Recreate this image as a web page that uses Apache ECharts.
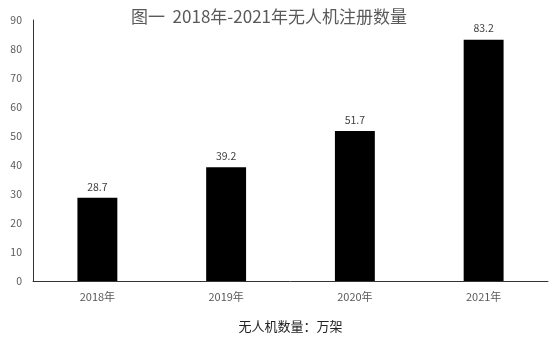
<!DOCTYPE html>
<html>
<head>
<meta charset="utf-8">
<script src="https://cdn.jsdelivr.net/npm/echarts@6/dist/echarts.min.js"></script>
<style>
  html, body { margin: 0; padding: 0; background: #fff; }
  #chart { width: 558px; height: 339px; }
</style>
</head>
<body>
<div id="chart"></div>
<script>
  var years = ['2018年', '2019年', '2020年', '2021年']
  var counts = [28.7, 39.2, 51.7, 83.2]
  var yTicks = { min: 0, max: 90, step: 10 }

  var myChart = echarts.init(document.getElementById('chart'))
  var font = '"Noto Sans CJK SC", "Liberation Sans", sans-serif'
  var option = {
    animation: false,
    title: {
      text: '图一  2018年-2021年无人机注册数量',
      left: 264,
      top: 3,
      textAlign: 'center',
      textStyle: { fontSize: 17, fontWeight: 'normal', color: '#595959', fontFamily: font }
    },
    grid: { left: 33, right: 10, top: 20, bottom: 58 },
    xAxis: {
      type: 'category',
      data: years,
      name: '无人机数量：万架',
      nameLocation: 'middle',
      nameGap: 39,
      nameTextStyle: { fontSize: 13, color: '#222', fontFamily: font },
      axisLine: { lineStyle: { color: '#333', width: 1 } },
      axisTick: { show: false },
      axisLabel: { fontSize: 11, color: '#595959', margin: 10, fontFamily: font }
    },
    yAxis: {
      type: 'value',
      min: yTicks.min,
      max: yTicks.max,
      interval: yTicks.step,
      axisLine: { show: true, lineStyle: { color: '#333', width: 1 } },
      axisTick: { show: false },
      splitLine: { show: false },
      axisLabel: { fontSize: 10.5, color: '#595959', margin: 11, fontFamily: font }
    },
    series: [{
      type: 'bar',
      data: counts,
      barWidth: '31%',
      itemStyle: { color: '#000' },
      label: {
        show: true,
        position: 'top',
        distance: 6,
        fontSize: 10.5,
        color: '#404040',
        fontFamily: font
      }
    }]
  }
  myChart.setOption(option)
</script>
</body>
</html>
